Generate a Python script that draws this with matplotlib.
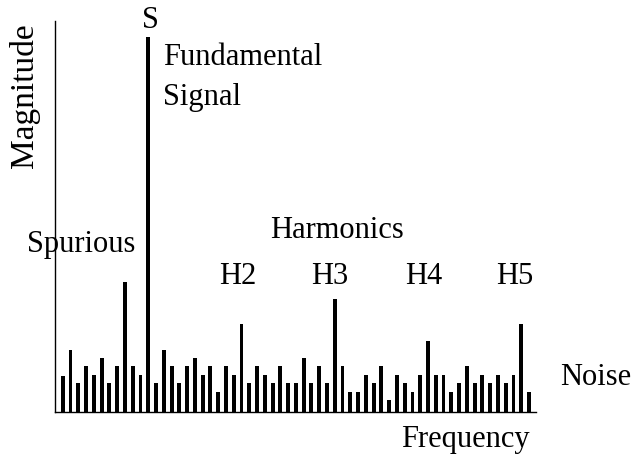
#!/usr/bin/env python3
"""Spectrum sketch: fundamental, harmonics, spurious and noise."""
import matplotlib

matplotlib.use("Agg")
import matplotlib.pyplot as plt

W, H = 644, 462

# magnitude of each frequency bin (arbitrary units)
noise_a = [36, 62, 29, 46, 37, 54, 29, 46, 130, 46, 37]
fundamental = [375]
noise_b = [29, 62, 46, 29, 46, 54, 37, 46, 20, 46, 37]
h2 = [88]
noise_c = [29, 46, 37, 29, 46, 29, 29, 54, 29, 46, 29]
h3 = [113]
noise_d = [46, 20, 20, 37, 29, 46, 12, 37, 29, 20, 37]
h4 = [71]
noise_e = [37, 37, 20, 29, 46, 29, 37, 29, 37, 29, 37]
h5 = [88]
noise_f = [20]

magnitudes = noise_a + fundamental + noise_b + h2 + noise_c + h3 + noise_d + h4 + noise_e + h5 + noise_f
bins = list(range(len(magnitudes)))

harmonic_labels = ["H2", "H3", "H4", "H5"]


def px(x, y):
    return x / W, 1 - y / H


plt.rcParams["font.family"] = ["Liberation Serif", "DejaVu Serif"]

fig = plt.figure(figsize=(W / 100, H / 100), dpi=100)
left, right, top, bottom = 55, 536, 21, 411.7
ax = fig.add_axes([left / W, 1 - bottom / H, (right - left) / W, (bottom - top) / H])

ax.bar(bins, magnitudes, width=0.5, color="black")
ax.set_xlim(-1.0, 60.9)
ax.set_ylim(0, bottom - top)
ax.set_xticks([])
ax.set_yticks([])
for side in ("top", "right"):
    ax.spines[side].set_visible(False)
for side in ("left", "bottom"):
    ax.spines[side].set_linewidth(1.0)
    ax.spines[side].set_color("black")

fs = 22
fig.text(*px(150, 28), "S", fontsize=fs, ha="center", va="baseline")
fig.text(*px(163, 65), "Fundamental", fontsize=fs, ha="left", va="baseline")
fig.text(*px(163, 105), "Signal", fontsize=fs, ha="left", va="baseline")
fig.text(*px(27, 252), "Spurious", fontsize=fs, ha="left", va="baseline")
fig.text(*px(337, 238), "Harmonics", fontsize=fs, ha="center", va="baseline")
for lab, cx in zip(harmonic_labels, [238, 330, 424, 515]):
    fig.text(*px(cx, 284), lab, fontsize=fs, ha="center", va="baseline")
fig.text(*px(596, 385), "Noise", fontsize=fs, ha="center", va="baseline")
fig.text(*px(465, 447), "Frequency", fontsize=fs, ha="center", va="baseline")
fig.text(*px(25, 96), "Magnitude", fontsize=24, rotation=90, ha="center", va="center")

fig.savefig("out.png", dpi=100)
